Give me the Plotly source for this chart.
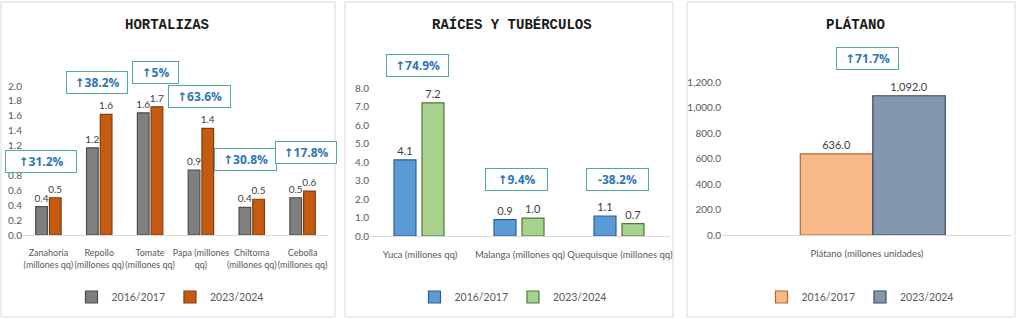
import plotly.graph_objects as go

# ---------------- data ----------------
hort_cats = ["Zanahoria<br>(millones qq)", "Repollo<br>(millones qq)", "Tomate<br>(millones qq)",
             "Papa (millones<br>qq)", "Chiltoma<br>(millones qq)", "Cebolla<br>(millones qq)"]
hort_2016 = [0.38, 1.17, 1.64, 0.87, 0.37, 0.50]
hort_2023 = [0.50, 1.62, 1.72, 1.43, 0.48, 0.59]
hort_pct = ["↑31.2%", "↑38.2%", "↑5%", "↑63.6%", "↑30.8%", "↑17.8%"]

rt_cats = ["Yuca (millones qq)", "Malanga (millones qq)", "Quequisque (millones qq)"]
rt_2016 = [4.12, 0.89, 1.08]
rt_2023 = [7.20, 0.97, 0.67]
rt_pct = ["↑74.9%", "↑9.4%", "-38.2%"]

pl_cats = ["Plátano (millones unidades)"]
pl_2016 = [636.0]
pl_2023 = [1092.0]
pl_pct = ["↑71.7%"]

series_names = ["2016/2017", "2023/2024"]
titles = ["HORTALIZAS", "RAÍCES Y TUBÉRCULOS", "PLÁTANO"]

# ---------------- layout helpers ----------------
W, H = 1024, 319
def px(x):
    return x / W
def py(y):
    return 1 - y / H

NARROW = "Lato, Liberation Sans, sans-serif"
TXT = "#595959"
LBL = "#404040"

fig = go.Figure()

def add_pair(xa, ya, cats, v1, v2, c1, l1, c2, l2, width, off1, off2, fmt, legend, lsize):
    for vals, col, lc, off, name in [(v1, c1, l1, off1, series_names[0]), (v2, c2, l2, off2, series_names[1])]:
        fig.add_trace(go.Bar(
            x=cats, y=vals, name=name, xaxis=xa, yaxis=ya,
            marker=dict(color=col, line=dict(color=lc, width=1.2)),
            width=width, offset=off,
            text=[format(v, fmt) for v in vals], textposition="outside",
            constraintext="none",
            textfont=dict(family=NARROW, size=lsize, color=LBL),
            cliponaxis=False, legend=legend, hoverinfo="skip",
        ))

add_pair("x", "y", hort_cats, hort_2016, hort_2023,
         "#7f7f7f", "#4d4d4d", "#c55a11", "#843c0c", 0.23, -0.25, 0.02, ".1f", "legend", 10)
add_pair("x2", "y2", rt_cats, rt_2016, rt_2023,
         "#5b9bd5", "#2e5f9a", "#a9d18e", "#4e7a34", 0.22, -0.26, 0.02, ".1f", "legend2", 11)
add_pair("x3", "y3", pl_cats, pl_2016, pl_2023,
         "#f8b98a", "#b5672e", "#8497b0", "#3b4a5e", 0.25, -0.23, 0.02, ",.1f", "legend3", 11)

def xax(size, standoff):
    return dict(showgrid=False, showline=True, linecolor="#d9d9d9", linewidth=1, zeroline=False,
                ticks="", tickangle=0, automargin=False,
                tickfont=dict(family=NARROW, size=size, color=TXT),
                ticklabelstandoff=standoff, fixedrange=True)
ycommon = dict(showgrid=False, showline=False, zeroline=False, ticks="", automargin=False,
               tickfont=dict(family=NARROW, size=10, color=TXT), fixedrange=True)

fig.update_layout(
    template="none",
    width=W, height=H, margin=dict(l=0, r=0, t=0, b=0, autoexpand=False),
    paper_bgcolor="white", plot_bgcolor="white",
    font=dict(family=NARROW, color=TXT),
    barmode="group", showlegend=True,
    xaxis=dict(domain=[px(23), px(328)], anchor="y", **xax(9, 9)),
    yaxis=dict(domain=[py(235), py(86)], anchor="x", range=[0, 2.0], dtick=0.2, tickformat=".1f", **ycommon),
    xaxis2=dict(domain=[px(370), px(670)], anchor="y2", **xax(9.5, 10)),
    yaxis2=dict(domain=[py(236), py(88)], anchor="x2", range=[0, 8], dtick=1, tickformat=".1f", **ycommon),
    xaxis3=dict(domain=[px(722), px(1012)], anchor="y3", **xax(9.5, 10)),
    yaxis3=dict(domain=[py(235), py(82)], anchor="x3", range=[0, 1200], dtick=200, tickformat=",.1f", **ycommon),
)

leg = dict(orientation="h", xanchor="center", yanchor="middle", bgcolor="rgba(0,0,0,0)",
           font=dict(family=NARROW, size=10.5, color=TXT), tracegroupgap=0)
fig.update_layout(
    legend=dict(x=px(170), y=py(297), **leg),
    legend2=dict(x=px(513), y=py(297), **leg),
    legend3=dict(x=px(860), y=py(297), **leg),
)

# panel borders
for x0, x1 in [(1, 335), (345, 673), (687, 1015)]:
    fig.add_shape(type="rect", xref="paper", yref="paper",
                  x0=px(x0), x1=px(x1), y0=py(317), y1=py(2),
                  line=dict(color="#d9d9d9", width=1), fillcolor="rgba(0,0,0,0)", layer="below")

# titles
for t, cx in zip(titles, [167, 512, 855]):
    fig.add_annotation(text="<b>" + t + "</b>", xref="paper", yref="paper", x=px(cx), y=py(25),
                       showarrow=False, xanchor="center", yanchor="middle",
                       font=dict(family="Liberation Mono, Courier New, monospace", size=14, color="#1a1a1a"))

# percentage boxes
box_centers = [(41, 161), (97, 82), (155, 73), (199, 96), (245, 160), (306, 153),
               (417, 65), (516, 180), (617, 180), (867, 59)]
box_widths = [70, 60, 45, 61, 61, 60, 61, 61, 61, 61]
all_pct = hort_pct + rt_pct + pl_pct
for (cx, cy), bw, t in zip(box_centers, box_widths, all_pct):
    label = t.replace("↑", "<span style='font-family:DejaVu Sans'>↑</span>")
    fig.add_annotation(text="<b>" + label + "</b>", xref="paper", yref="paper", x=px(cx), y=py(cy),
                       showarrow=False, xanchor="center", yanchor="middle",
                       width=bw, height=21, borderpad=0, bordercolor="#4ea8a4", borderwidth=1,
                       bgcolor="white", align="center",
                       font=dict(family="Open Sans, Liberation Sans, sans-serif", size=12, color="#2e75b6"))

fig.write_html("out.html")
